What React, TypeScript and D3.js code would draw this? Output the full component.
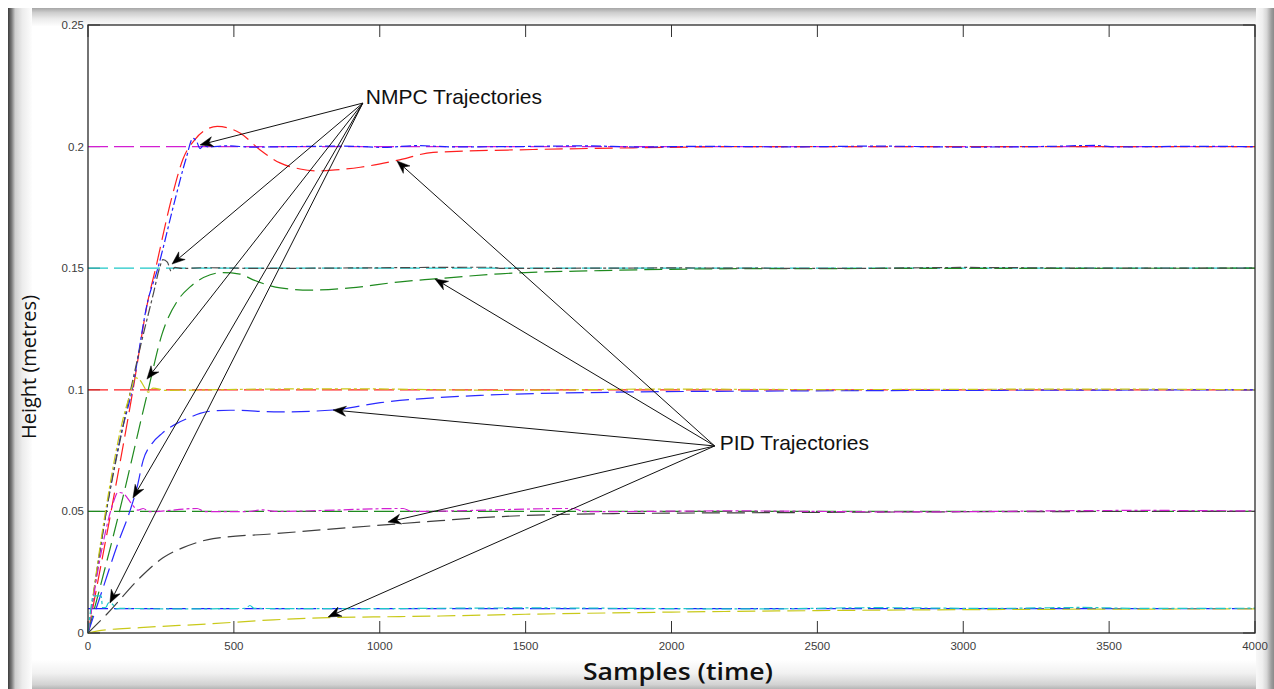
import React from 'react';
import * as d3 from 'd3';

type P = [number, number];

const W = 1274;
const H = 689;

const xTickValues = [0, 500, 1000, 1500, 2000, 2500, 3000, 3500, 4000];
const yTickValues = [0, 0.05, 0.1, 0.15, 0.2, 0.25];
const yTickLabels = ['0', '0.05', '0.1', '0.15', '0.2', '0.25'];

const setpoints = [0.2, 0.15, 0.1, 0.05, 0.01];
const setpointColors = ['#d21fd2', '#1ec8c8', '#ff1f1f', '#1f8a1f', '#1f1fff'];

// NMPC trajectories (dash-dot, noisy)
const nmpc020: P[] = [[0,0],[30,0.025],[69,0.0545],[110,0.08],[151,0.0998],[206,0.137],[237,0.149],[298,0.178],[336,0.195],[360,0.2034],[372,0.2022],[384,0.1992],[395,0.2004],[412,0.1999],[480,0.2003],[560,0.1998],[700,0.2],[880,0.2002],[1010,0.1997],[1130,0.2004],[1250,0.1999],[1460,0.2],[1700,0.2003],[1900,0.1998],[2100,0.2001],[2400,0.1999],[2700,0.2002],[3000,0.1998],[3300,0.2001],[3450,0.2005],[3520,0.1999],[3800,0.2001],[4000,0.2]];
const nmpc015: P[] = [[0,0],[60,0.048],[120,0.085],[180,0.118],[225,0.14],[245,0.15],[257,0.1535],[272,0.1525],[285,0.1488],[298,0.1503],[320,0.1499],[400,0.1502],[600,0.1499],[900,0.1501],[1380,0.1504],[1420,0.1499],[2000,0.1501],[2600,0.1499],[3000,0.1503],[3500,0.15],[4000,0.15]];
const nmpc010: P[] = [[0,0],[60,0.05],[120,0.088],[150,0.1005],[161,0.105],[178,0.104],[196,0.1005],[206,0.099],[223,0.1007],[264,0.0998],[600,0.1003],[900,0.1004],[1400,0.0998],[2000,0.1003],[2500,0.1001],[3500,0.1003],[4000,0.1]];
const nmpc005: P[] = [[0,0],[50,0.036],[85,0.053],[103,0.0578],[120,0.0575],[134,0.0557],[154,0.0524],[172,0.0505],[189,0.0512],[210,0.0499],[374,0.0512],[400,0.0499],[540,0.0499],[600,0.0506],[640,0.05],[1080,0.0512],[1110,0.05],[1664,0.0512],[1700,0.0499],[2200,0.0502],[2800,0.0498],[3600,0.0504],[4000,0.0502]];
const nmpc001: P[] = [[0,0],[12,0.012],[17,0.0153],[45,0.0153],[50,0.0104],[62,0.0106],[70,0.0124],[85,0.0117],[95,0.0099],[110,0.0101],[300,0.0099],[540,0.0101],[555,0.0113],[570,0.0101],[900,0.01],[1500,0.0103],[2300,0.0099],[2700,0.0104],[3100,0.0101],[3400,0.0105],[3600,0.0101],[4000,0.0102]];

// PID trajectories (dashed)
const pid020: P[] = [[0,0],[86,0.0545],[154,0.0998],[206,0.137],[230,0.149],[285,0.178],[326,0.195],[367,0.203],[401,0.2067],[443,0.2083],[521,0.2056],[590,0.1986],[658,0.1933],[727,0.1908],[790,0.19],[847,0.1904],[933,0.1915],[1059,0.1943],[1183,0.1976],[1525,0.1988],[1868,0.1995],[2271,0.2],[4000,0.2]];
const pid015: P[] = [[0,0],[117,0.0545],[206,0.0998],[254,0.123],[309,0.137],[350,0.1423],[419,0.1473],[463,0.1482],[521,0.1476],[566,0.1452],[659,0.1419],[762,0.141],[899,0.1419],[1070,0.1444],[1189,0.1456],[1413,0.1477],[1756,0.149],[2271,0.1498],[4000,0.15]];
const pid010: P[] = [[0,0],[50,0.018],[100,0.036],[144,0.0503],[168,0.0598],[189,0.071],[220,0.078],[254,0.0821],[305,0.0862],[350,0.0887],[384,0.0903],[419,0.0912],[487,0.0916],[659,0.0909],[840,0.0917],[1002,0.0947],[1345,0.0977],[1801,0.099],[2374,0.0995],[3129,0.0998],[4000,0.1]];
const pid005: P[] = [[0,0],[65,0.0078],[178,0.0227],[257,0.0309],[326,0.0351],[429,0.0388],[635,0.0408],[978,0.0441],[1208,0.0462],[1345,0.0474],[1801,0.0491],[2374,0.0495],[3129,0.0499],[4000,0.05]];
const pid001: P[] = [[0,0],[30,0.0008],[178,0.0022],[408,0.0037],[635,0.0054],[823,0.0063],[978,0.0066],[1208,0.007],[1500,0.0077],[2000,0.0086],[2500,0.0092],[3000,0.0096],[4000,0.0099]];

const nmpcSeries = [nmpc020, nmpc015, nmpc010, nmpc005, nmpc001];
const nmpcColors = ['#1f1fff', '#4a4a4a', '#c9c91a', '#d21fd2', '#1ec8c8'];
const pidSeries = [pid020, pid015, pid010, pid005, pid001];
const pidColors = ['#ff1f1f', '#1f8a1f', '#2a2aff', '#3f3f3f', '#c9c91a'];

const nmpcLabel = { text: 'NMPC Trajectories', sample: 942, value: 0.2179 };
const nmpcTargets: P[] = [[384, 0.2007], [288, 0.1517], [202, 0.1044], [154, 0.0555], [75, 0.0123]];
const pidLabel = { text: 'PID Trajectories', sample: 2148, value: 0.0769 };
const pidTargets: P[] = [[1059, 0.1941], [1189, 0.1456], [840, 0.0917], [1028, 0.0456], [823, 0.0066]];

const xLabel = 'Samples (time)';
const yLabel = 'Height (metres)';

const x = d3.scaleLinear().domain([0, 4000]).range([88, 1255]);
const y = d3.scaleLinear().domain([0, 0.25]).range([633, 25]);

const line = d3.line<P>().x(d => x(d[0])).y(d => y(d[1])).curve(d3.curveMonotoneX);

function Arrow({ from, to }: { from: P; to: P }) {
  const x1 = x(from[0]), y1 = y(from[1]);
  const x2 = x(to[0]), y2 = y(to[1]);
  const a = Math.atan2(y2 - y1, x2 - x1);
  const L = 13, Wd = 5, N = 9;
  const bx = (d: number, s: number) => x2 - d * Math.cos(a) - s * Math.sin(a);
  const by = (d: number, s: number) => y2 - d * Math.sin(a) + s * Math.cos(a);
  const head = `M${x2},${y2}L${bx(L, Wd)},${by(L, Wd)}L${bx(N, 0)},${by(N, 0)}L${bx(L, -Wd)},${by(L, -Wd)}Z`;
  return (
    <g>
      <line x1={x1} y1={y1} x2={bx(N, 0)} y2={by(N, 0)} stroke="#111" strokeWidth={1} />
      <path d={head} fill="#000" stroke="#000" strokeWidth={0.5} />
    </g>
  );
}

export default function App() {
  const x0 = x.range()[0], x1 = x.range()[1];
  const yb = y.range()[0], yt = y.range()[1];
  const tickLen = 12;
  return (
    <svg width={W} height={H} style={{ position: 'fixed', left: 0, top: 0, display: 'block', background: '#fff' }}>
      <defs>
        <linearGradient id="gTop" x1="0" y1="0" x2="0" y2="1">
          <stop offset="0" stopColor="#a6a6a6" />
          <stop offset="0.25" stopColor="#cdcdcd" />
          <stop offset="0.6" stopColor="#ebebeb" />
          <stop offset="1" stopColor="#fdfdfd" />
        </linearGradient>
        <linearGradient id="gBottom" x1="0" y1="0" x2="0" y2="1">
          <stop offset="0" stopColor="#ffffff" />
          <stop offset="0.45" stopColor="#f1f1f1" />
          <stop offset="0.85" stopColor="#d2d2d2" />
          <stop offset="1" stopColor="#b5b5b5" />
        </linearGradient>
        <linearGradient id="gLeft" x1="0" y1="0" x2="1" y2="0">
          <stop offset="0" stopColor="#3c3c3c" />
          <stop offset="0.15" stopColor="#7a7a7a" />
          <stop offset="0.3" stopColor="#cfcfcf" />
          <stop offset="0.6" stopColor="#ececec" />
          <stop offset="1" stopColor="#fdfdfd" />
        </linearGradient>
        <linearGradient id="gRight" x1="0" y1="0" x2="1" y2="0">
          <stop offset="0" stopColor="#f8f8f8" />
          <stop offset="0.35" stopColor="#efefef" />
          <stop offset="0.6" stopColor="#d6d6d6" />
          <stop offset="0.85" stopColor="#9e9e9e" />
          <stop offset="1" stopColor="#8a8a8a" />
        </linearGradient>
      </defs>
      <rect x={0} y={0} width={W} height={H} fill="#fff" />
      <rect x={8} y={8} width={W - 8} height={18} fill="url(#gTop)" />
      <rect x={8} y={660} width={W - 8} height={29} fill="url(#gBottom)" />
      <rect x={8} y={8} width={24} height={H - 8} fill="url(#gLeft)" />
      <rect x={1256} y={8} width={18} height={H - 8} fill="url(#gRight)" />
      <rect x={x0} y={yt} width={x1 - x0} height={yb - yt} fill="#fff" />

      {/* ticks */}
      <g stroke="#333" strokeWidth={1}>
        {xTickValues.map(v => (
          <g key={'xt' + v}>
            <line x1={x(v)} x2={x(v)} y1={yb} y2={yb - tickLen} />
            <line x1={x(v)} x2={x(v)} y1={yt} y2={yt + tickLen} />
          </g>
        ))}
        {yTickValues.map(v => (
          <g key={'yt' + v}>
            <line x1={x0} x2={x0 + tickLen} y1={y(v)} y2={y(v)} />
            <line x1={x1} x2={x1 - tickLen} y1={y(v)} y2={y(v)} />
          </g>
        ))}
      </g>

      {/* reference lines */}
      {setpoints.map((s, i) => (
        <line key={'ref' + i} x1={x(0)} x2={x(4000)} y1={y(s)} y2={y(s)} stroke={setpointColors[i]} strokeWidth={1.2} strokeDasharray="20,6" />
      ))}

      {/* PID */}
      {pidSeries.map((s, i) => (
        <path key={'pid' + i} d={line(s) || ''} fill="none" stroke={pidColors[i]} strokeWidth={1.2} strokeDasharray="18,7" />
      ))}

      {/* NMPC */}
      {nmpcSeries.map((s, i) => (
        <path key={'nmpc' + i} d={line(s) || ''} fill="none" stroke={nmpcColors[i]} strokeWidth={1.2} strokeDasharray="10,3,3,3" />
      ))}

      {/* axes box */}
      <rect x={x0} y={yt} width={x1 - x0} height={yb - yt} fill="none" stroke="#2a2a2a" strokeWidth={1.3} />

      {/* tick labels */}
      <g fontFamily="'Liberation Sans', Arial, sans-serif" fontSize={11.5} fill="#3c3c3c">
        {xTickValues.map(v => (
          <text key={'xl' + v} x={x(v)} y={yb + 17} textAnchor="middle">{String(v)}</text>
        ))}
        {yTickValues.map((v, i) => (
          <text key={'yl' + v} x={x0 - 4} y={y(v) + 4} textAnchor="end">{yTickLabels[i]}</text>
        ))}
      </g>

      {/* axis labels */}
      <text x={678} y={680} textAnchor="middle" fontFamily="'Open Sans', sans-serif" fontWeight={600} fontSize={23} fill="#111" textLength={190} lengthAdjust="spacingAndGlyphs">{xLabel}</text>
      <text transform={`translate(36,${(yt + yb) / 2 + 38}) rotate(-90)`} textAnchor="middle" fontFamily="'Open Sans', sans-serif" fontSize={20} fill="#111">{yLabel}</text>

      {/* annotations */}
      {nmpcTargets.map((t, i) => (
        <Arrow key={'na' + i} from={[nmpcLabel.sample, nmpcLabel.value]} to={t} />
      ))}
      {pidTargets.map((t, i) => (
        <Arrow key={'pa' + i} from={[pidLabel.sample, pidLabel.value]} to={t} />
      ))}
      <text x={x(nmpcLabel.sample) + 3} y={y(nmpcLabel.value) + 1} fontFamily="'Liberation Sans', Arial, sans-serif" fontSize={21} fill="#111">{nmpcLabel.text}</text>
      <text x={x(pidLabel.sample) + 5} y={y(pidLabel.value) + 4} fontFamily="'Liberation Sans', Arial, sans-serif" fontSize={21} fill="#111">{pidLabel.text}</text>
    </svg>
  );
}
